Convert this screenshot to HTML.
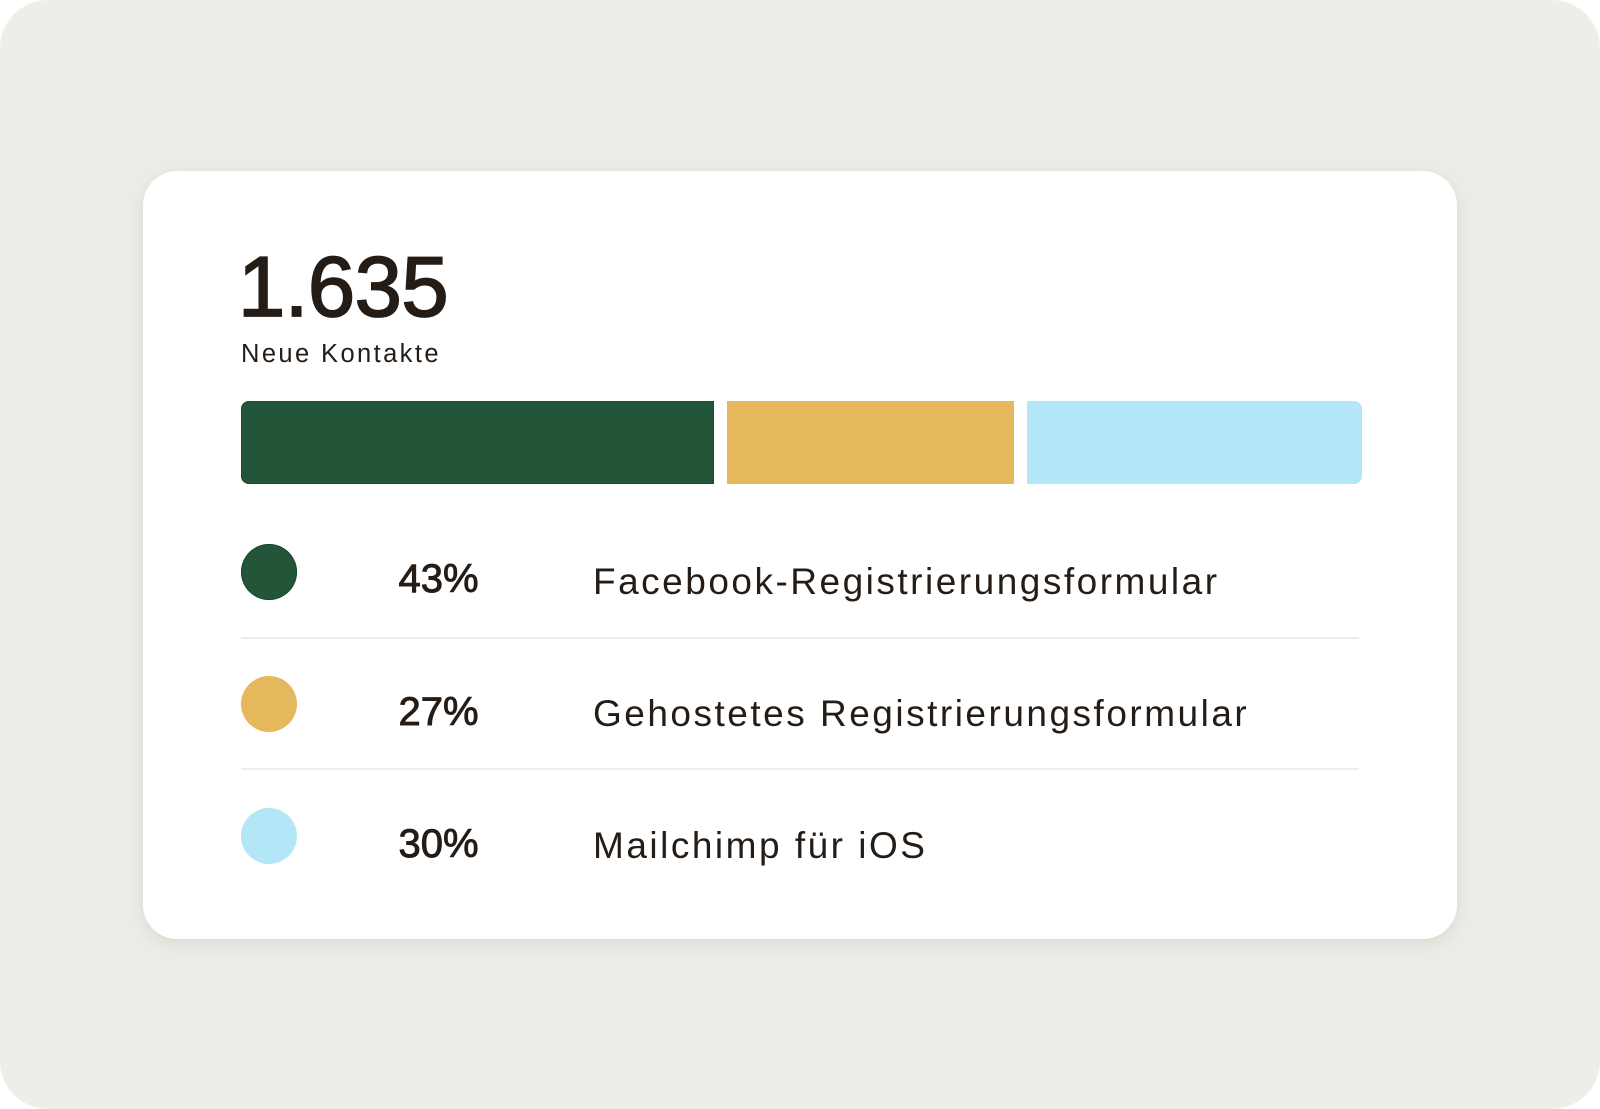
<!DOCTYPE html>
<html>
<head>
<meta charset="utf-8">
<style>
  html, body { margin: 0; padding: 0; }
  body {
    width: 1600px; height: 1109px; position: relative; overflow: hidden;
    background: #ffffff;
    font-family: "Liberation Sans", "DejaVu Sans", sans-serif;
    color: #241c15;
  }
  .bg {
    position: absolute; left: 0; top: 0; width: 1600px; height: 1109px;
    background: #eeeee9; border-radius: 48px;
  }
  .card {
    position: absolute; left: 143px; top: 171px; width: 1314px; height: 768px;
    background: #ffffff; border-radius: 34px;
    box-shadow: 0 6px 26px rgba(70, 70, 50, 0.10), 0 1px 4px rgba(70,70,50,0.05);
  }
  .abs { position: absolute; white-space: nowrap; }
  .big {
    left: 238px; top: 245px; font-size: 85px; line-height: 85px;
    letter-spacing: -0.5px; -webkit-text-stroke: 1.8px #241c15;
  }
  .sub {
    left: 241px; top: 342px; font-size: 25.5px; line-height: 25.5px;
    letter-spacing: 2.4px;
  }
  .seg { position: absolute; top: 401px; height: 83px; }
  .g { left: 241px; width: 473px; background: #235539; border-radius: 8px 0 0 8px; box-shadow: inset 0 0 0 1px #1c4a2e; }
  .y { left: 727px; width: 287px; background: #e5b85e; }
  .b { left: 1027px; width: 335px; background: #b3e6f6; border-radius: 0 8px 8px 0; }
  .dot { position: absolute; left: 241px; width: 56px; height: 56px; border-radius: 50%; }
  .pct {
    position: absolute; left: 378px; width: 121px; text-align: center;
    font-size: 40px; line-height: 40px; -webkit-text-stroke: 0.9px #241c15;
  }
  .lbl {
    position: absolute; left: 593px; font-size: 37px; line-height: 37px;
    letter-spacing: 2.5px; white-space: nowrap;
  }
  .sep { position: absolute; left: 241px; width: 1118px; height: 2px; background: #eeeee9; }
</style>
</head>
<body>
  <div class="bg"></div>
  <div class="card"></div>

  <div class="abs big">1.635</div>
  <div class="abs sub">Neue Kontakte</div>

  <div class="seg g"></div>
  <div class="seg y"></div>
  <div class="seg b"></div>

  <div class="dot" style="top:544px; background:#235539; box-shadow: inset 0 0 0 1px #1c4a2e;"></div>
  <div class="pct" style="top:559px;">43%</div>
  <div class="lbl" style="top:563px;">Facebook-Registrierungsformular</div>

  <div class="sep" style="top:637px;"></div>

  <div class="dot" style="top:676px; background:#e5b85e;"></div>
  <div class="pct" style="top:692px;">27%</div>
  <div class="lbl" style="top:695px;">Gehostetes Registrierungsformular</div>

  <div class="sep" style="top:768px;"></div>

  <div class="dot" style="top:808px; background:#b3e6f6;"></div>
  <div class="pct" style="top:824px;">30%</div>
  <div class="lbl" style="top:827px;">Mailchimp für iOS</div>
</body>
</html>
